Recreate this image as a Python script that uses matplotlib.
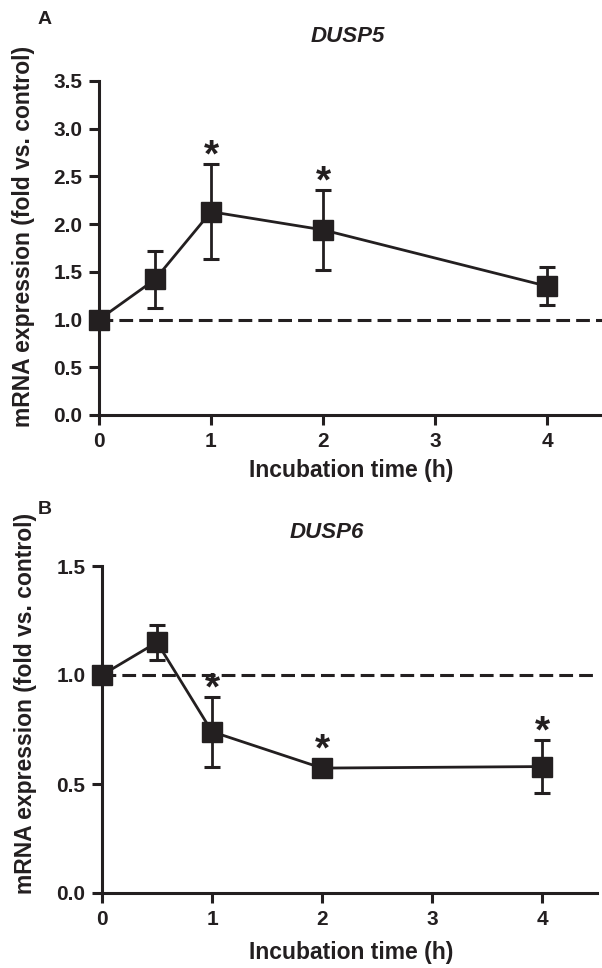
import matplotlib
matplotlib.use("Agg")
import matplotlib.pyplot as plt

plt.rcParams['font.family'] = ['Liberation Sans', 'DejaVu Sans']
plt.rcParams['font.weight'] = 'bold'

# incubation time (h)
time_h = [0, 0.5, 1, 2, 4]

# DUSP5
dusp5_mean = [1.0, 1.42, 2.13, 1.94, 1.35]
dusp5_err = [0.0, 0.30, 0.50, 0.42, 0.20]
dusp5_star = [False, False, True, True, False]

# DUSP6
dusp6_mean = [1.0, 1.15, 0.74, 0.573, 0.58]
dusp6_err = [0.0, 0.08, 0.16, 0.0, 0.12]
dusp6_star = [False, False, True, True, True]

xticks = [0, 1, 2, 3, 4]
ylabel = "mRNA expression (fold vs. control)"
xlabel = "Incubation time (h)"

W, H = 602, 968
INK = '#231f20'
fig = plt.figure(figsize=(W / 100, H / 100), dpi=100)


def px_axes(left, right, top, bottom):
    return fig.add_axes([left / W, 1 - bottom / H, (right - left) / W, (bottom - top) / H])


def draw_panel(ax, mean, err, star, ymax, yticks, title, letter,
               title_xy, letter_xy, ylab_xy, xlab_y):
    ax.axhline(1.0, color=INK, lw=2.2, ls=(0, (4.5, 2)), zorder=1)
    ax.errorbar(time_h, mean, yerr=err, fmt='-s', color=INK, lw=2.0,
                ms=14, elinewidth=2.0, capsize=6, capthick=2.2,
                clip_on=False, zorder=3)
    fs = 28
    for x, m, e, s in zip(time_h, mean, err, star):
        if s:
            off_px = 20 + (10 if e == 0 else 0)
            ax.annotate('*', (x, m + e), xytext=(0, off_px / 1.389 - 0.58 * fs),
                        textcoords='offset points', ha='center', va='baseline',
                        fontsize=fs, fontweight='bold', color=INK)
    ax.set_xlim(0, 4.5)
    ax.set_ylim(0, ymax)
    ax.set_xticks(xticks)
    ax.set_yticks(yticks)
    ax.set_yticklabels(['%.1f' % v for v in yticks])
    for sp in ['top', 'right']:
        ax.spines[sp].set_visible(False)
    for sp in ['left', 'bottom']:
        ax.spines[sp].set_linewidth(2.2)
        ax.spines[sp].set_color(INK)
    ax.tick_params(width=2.2, length=7, labelsize=15, color=INK,
                   labelcolor=INK, pad=5)
    fig.text(351 / W, 1 - xlab_y / H, xlabel, fontsize=16.5,
             fontweight='bold', ha='center', va='center', color=INK)
    fig.text(ylab_xy[0] / W, 1 - ylab_xy[1] / H, ylabel, rotation=90,
             fontsize=16.5, fontweight='bold', ha='center', va='center', color=INK)
    fig.text(title_xy[0] / W, 1 - title_xy[1] / H, title, fontsize=16,
             fontweight='bold', style='italic', ha='left', va='center', color=INK)
    fig.text(letter_xy[0] / W, 1 - letter_xy[1] / H, letter, fontsize=14,
             fontweight='bold', ha='center', va='center', color=INK)


axA = px_axes(99, 603, 81, 415)
draw_panel(axA, dusp5_mean, dusp5_err, dusp5_star, 3.5,
           [0.0, 0.5, 1.0, 1.5, 2.0, 2.5, 3.0, 3.5], 'DUSP5', 'A',
           (311, 36), (45, 20), (24, 236), 470)

axB = px_axes(102, 597, 566, 893)
draw_panel(axB, dusp6_mean, dusp6_err, dusp6_star, 1.5,
           [0.0, 0.5, 1.0, 1.5], 'DUSP6', 'B',
           (290, 533), (45, 510), (26, 703), 952)

fig.savefig('out.png', dpi=100)
